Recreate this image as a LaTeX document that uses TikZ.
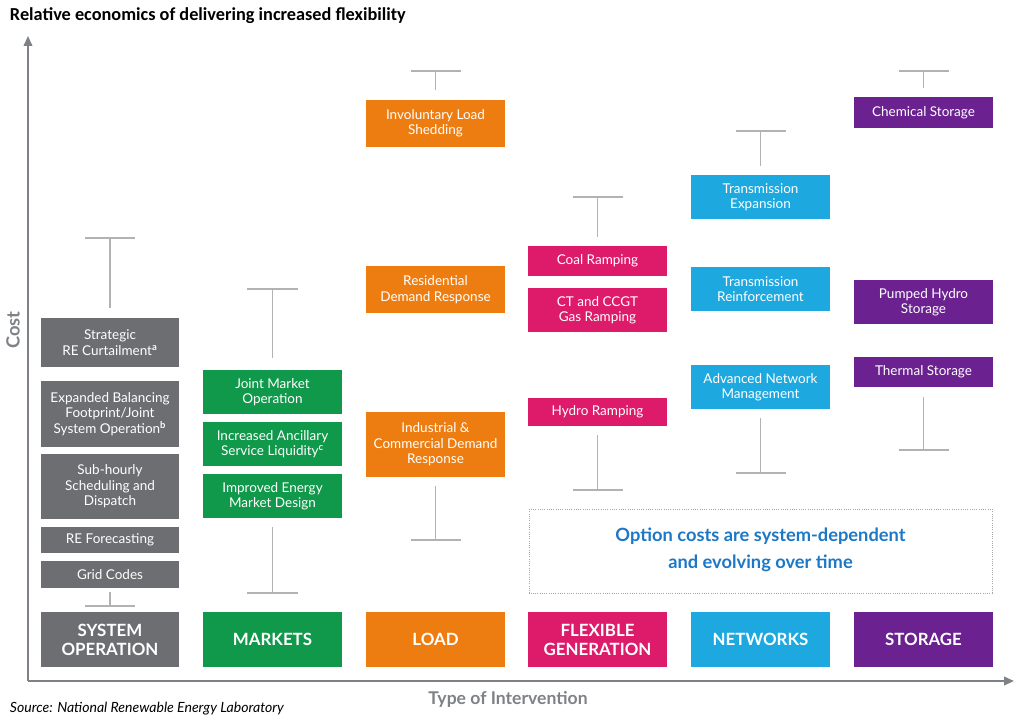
\documentclass[tikz,border=0pt]{standalone}
\usepackage{fontspec}
\setmainfont{Lato}
\newfontfamily\titlefont{Carlito}
\usetikzlibrary{arrows.meta}

\definecolor{sysgray}{HTML}{6D6E71}
\definecolor{mktgreen}{HTML}{10994A}
\definecolor{ldorange}{HTML}{EE7D11}
\definecolor{genpink}{HTML}{DE1A6A}
\definecolor{netblue}{HTML}{1DA9E0}
\definecolor{stpurple}{HTML}{6B2190}
\definecolor{axgray}{HTML}{7E8185}
\definecolor{notblue}{HTML}{1C78C6}

\tikzset{
  opt/.style={fill=#1, text=white, minimum width=3.45cm, inner sep=0pt,
    align=center, font=\fontsize{9.6}{11}\selectfont},
  cat/.style={opt=#1, minimum height=1.375cm, font=\fontsize{12}{13.5}\selectfont\bfseries},
  whisk/.style={draw=black!30, line width=0.9pt},
}

% option box: name, colour, x centre, top, bottom, text
\newcommand\optbox[6]{%
  \node[opt=#2, minimum height={(#5-#4)*0.025cm}] (#1) at (#3,{(#4+#5)/2}) {#6};}
% whisker: name, x centre, bar, end
\newcommand\whisker[4]{%
  \coordinate (#1) at (#2,#3);
  \draw[whisk] ([xshift=-0.625cm]#1) -- ([xshift=0.625cm]#1);
  \draw[whisk] (#1) -- (#2,#4);}

\begin{document}
\begin{tikzpicture}[x=0.025cm, y=-0.025cm]
	\useasboundingbox (0,0) rectangle (1024,727);

	% title and axes
	\node[anchor=west, font=\titlefont\bfseries\fontsize{13}{14}\selectfont] (title) at (5,16) {Relative economics of delivering increased flexibility};
	\coordinate (orig) at (28,681);
	\coordinate (ytop) at (28,36);
	\coordinate (xend) at (1014,681);
	\draw[axgray, line width=1.4pt, -{Triangle[length=7pt,width=6pt]}] (orig) -- (ytop);
	\draw[axgray, line width=1.4pt, -{Triangle[length=7pt,width=6pt]}] (orig) -- (xend);
	\node[rotate=90, text=axgray, font=\bfseries\fontsize{13}{14}\selectfont] (cost) at (13,330) {Cost};
	\node[text=axgray, font=\bfseries\fontsize{12.5}{14}\selectfont] (xlab) at (508,699) {Type of Intervention};
	\node[anchor=west, font=\itshape\fontsize{10}{11}\selectfont] (src) at (5,709) {Source: National Renewable Energy Laboratory};

	% system operation
	\whisker{sysT}{110}{238}{308}
	\whisker{sysB}{110}{606}{592}
	\optbox{curt}{sysgray}{110}{318}{367}{Strategic\\RE Curtailment\textsuperscript{\textbf{a}}}
	\optbox{bal}{sysgray}{110}{381}{447}{Expanded Balancing\\Footprint/Joint\\System Operation\textsuperscript{\textbf{b}}}
	\optbox{sched}{sysgray}{110}{454}{519}{Sub-hourly\\Scheduling and\\Dispatch}
	\optbox{fcst}{sysgray}{110}{527}{553}{RE Forecasting}
	\optbox{grid}{sysgray}{110}{561}{588}{Grid Codes}

	% markets
	\whisker{mktT}{272.5}{289}{358}
	\whisker{mktB}{272.5}{593}{527}
	\optbox{joint}{mktgreen}{272.5}{370}{414}{Joint Market\\Operation}
	\optbox{anc}{mktgreen}{272.5}{422}{466}{Increased Ancillary\\Service Liquidity\textsuperscript{\textbf{c}}}
	\optbox{emd}{mktgreen}{272.5}{474}{518}{Improved Energy\\Market Design}

	% load
	\whisker{ldT}{435.5}{71}{90}
	\whisker{ldB}{435.5}{540}{486}
	\optbox{shed}{ldorange}{435.5}{100}{147}{Involuntary Load\\Shedding}
	\optbox{resdr}{ldorange}{435.5}{266}{313}{Residential\\Demand Response}
	\optbox{inddr}{ldorange}{435.5}{412}{477}{Industrial \&\\Commercial Demand\\Response}

	% flexible generation
	\whisker{genT}{597.5}{197}{237}
	\whisker{genB}{597.5}{490}{435}
	\optbox{coal}{genpink}{597.5}{246}{276}{Coal Ramping}
	\optbox{gas}{genpink}{597.5}{288}{332}{CT and CCGT\\Gas Ramping}
	\optbox{hydro}{genpink}{597.5}{398}{426}{Hydro Ramping}

	% networks
	\whisker{netT}{760.5}{131}{166}
	\whisker{netB}{760.5}{473}{418}
	\optbox{texp}{netblue}{760.5}{175}{219}{Transmission\\Expansion}
	\optbox{treinf}{netblue}{760.5}{267}{311}{Transmission\\Reinforcement}
	\optbox{anm}{netblue}{760.5}{365}{409}{Advanced Network\\Management}

	% storage
	\whisker{stT}{923.5}{71}{88}
	\whisker{stB}{923.5}{450}{397}
	\optbox{chem}{stpurple}{923.5}{97}{128}{Chemical Storage}
	\optbox{phs}{stpurple}{923.5}{280}{324}{Pumped Hydro\\Storage}
	\optbox{therm}{stpurple}{923.5}{357}{387}{Thermal Storage}

	% categories
	\node[cat=sysgray] (csys) at (110,639.5) {SYSTEM\\OPERATION};
	\node[cat=mktgreen] (cmkt) at (272.5,639.5) {MARKETS};
	\node[cat=ldorange] (cld) at (435.5,639.5) {LOAD};
	\node[cat=genpink] (cgen) at (597.5,639.5) {FLEXIBLE\\GENERATION};
	\node[cat=netblue] (cnet) at (760.5,639.5) {NETWORKS};
	\node[cat=stpurple] (cst) at (923.5,639.5) {STORAGE};

	% note
	\draw[black!35, densely dotted, line width=0.6pt] (529,509) rectangle (992,593);
	\node[text=notblue, align=center, font=\bfseries\fontsize{13}{19}\selectfont] (note) at (760.5,550) {Option costs are system-dependent\\and evolving over time};
\end{tikzpicture}
\end{document}
